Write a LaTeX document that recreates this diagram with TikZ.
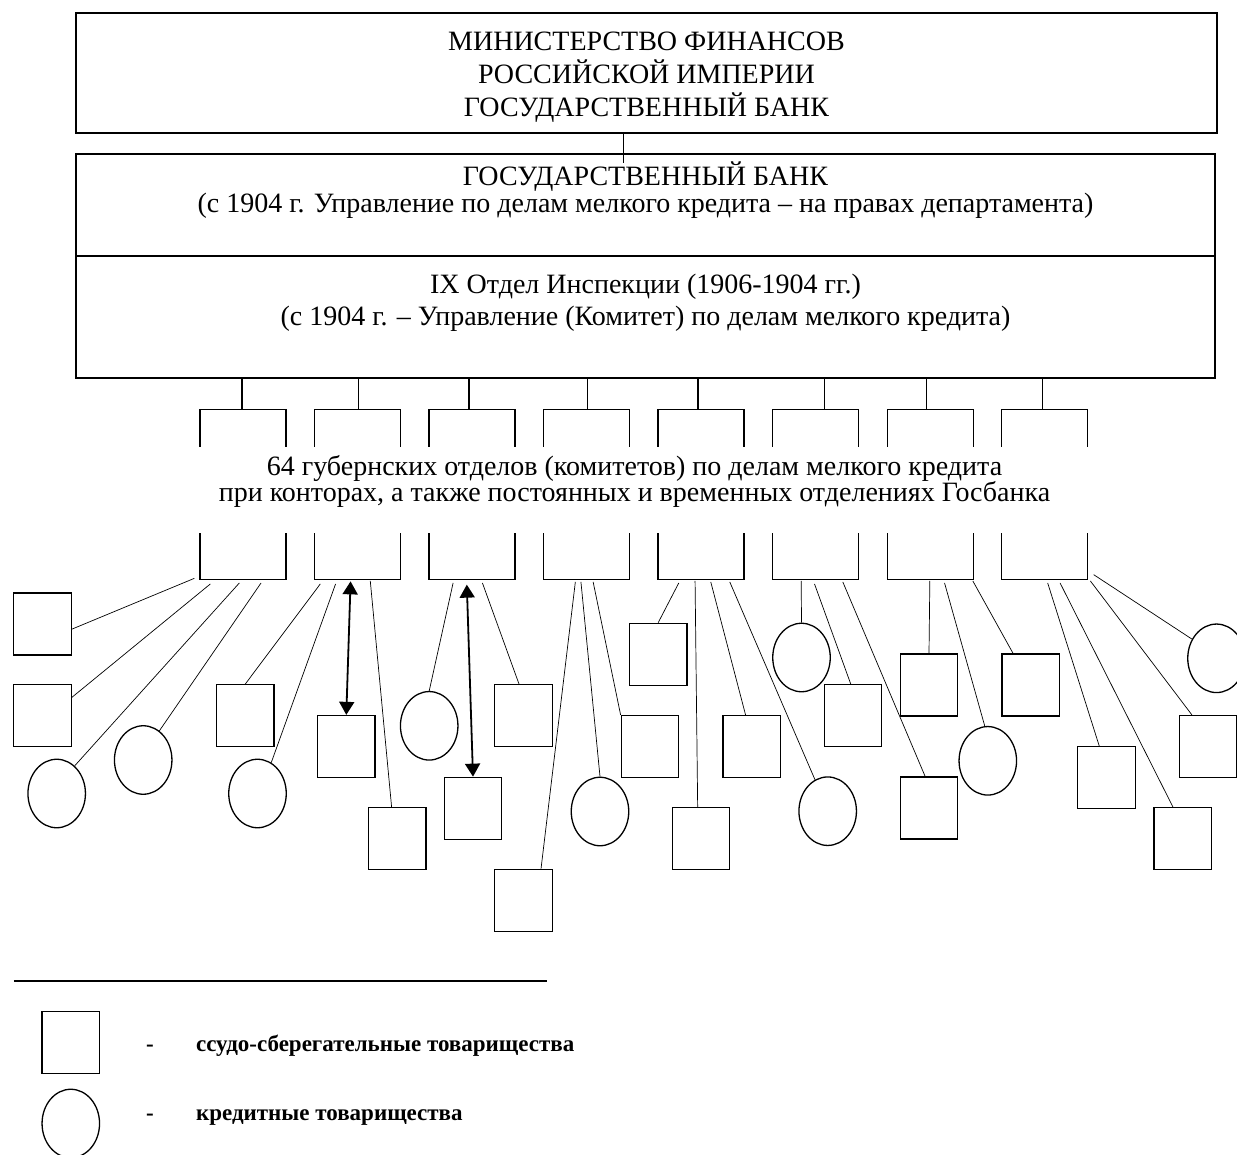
\documentclass[tikz,border=0pt]{standalone}
\usepackage{fontspec}
\setmainfont{Liberation Serif}
\usetikzlibrary{positioning,arrows.meta,shapes.geometric,calc}

\tikzset{
    frame/.style={draw, line width=0.65pt, inner sep=0pt},
    hdtext/.style={align=center, font={\fontsize{14pt}{16.5pt}\selectfont}},
    gub/.style={frame, minimum width=43pt, minimum height=85pt},
    ssb/.style={frame, minimum width=28.75pt, minimum height=31pt},
    kred/.style={frame, ellipse, minimum width=28.75pt, minimum height=34.25pt},
    drop/.style={line width=0.65pt},
    link/.style={line width=0.35pt},
    dbl/.style={line width=0.9pt,
        {Triangle[width=7.5pt,length=6.5pt]}-{Triangle[width=7.5pt,length=6.5pt]}},
    legtext/.style={font={\fontsize{11.5pt}{14pt}\selectfont\bfseries}, anchor=base west, inner sep=0pt},
    legdash/.style={font={\fontsize{11.5pt}{14pt}\selectfont\bfseries}, anchor=base, inner sep=0pt}
}

\begin{document}
\begin{tikzpicture}[x=0.5pt, y=-0.5pt]
\useasboundingbox (0,0) rectangle (1237,1155);

% head of the scheme
\node[frame, minimum width=570.5pt, minimum height=60pt] (minfin) at (646.5,72.9) {};
\node[hdtext, font={\fontsize{14pt}{16.6pt}\selectfont}] (mintext) at (646.5,77)
    {МИНИСТЕРСТВО ФИНАНСОВ\\РОССИЙСКОЙ ИМПЕРИИ\\ГОСУДАРСТВЕННЫЙ БАНК};
\node[frame, minimum width=569.5pt, minimum height=51pt] (bank) at (645.5,205) {};
\node[frame, minimum width=569.5pt, minimum height=61pt] (inspect) at (645.5,317) {};
\node[hdtext, font={\fontsize{14pt}{13.6pt}\selectfont}] (banktext) at (645.5,190.5)
    {ГОСУДАРСТВЕННЫЙ БАНК\\(с 1904 г. Управление по делам мелкого кредита -- на правах департамента)};
\node[hdtext, font={\fontsize{14pt}{16.2pt}\selectfont}] (insptext) at (645.5,303)
    {IX Отдел Инспекции (1906-1904 гг.)\\(с 1904 г. -- Управление (Комитет) по делам мелкого кредита)};

\coordinate (c0) at (623,163);
\draw[link, line width=0.5pt] (minfin.south -| c0) -- (c0);

% губернские отделы
\foreach \i in {1,...,8}
    \node[gub] (g\i) at ({243+114.53*(\i-1)},494.3) {};
\foreach \i/\dx in {1/-1,2/1,3/-3,4/1,5/-3,6/9,7/-4,8/-2} {
    \coordinate (d\i) at ($(g\i.north)+(\dx,0)$);
    \draw[drop] (d\i) -- (d\i |- inspect.south);
}
\node[fill=white, minimum width=452pt, minimum height=43pt] (band) at (643.9,490.3) {};
\node[hdtext, font={\fontsize{14pt}{13pt}\selectfont\lineskiplimit=-20pt}] (bandtext) at (634.5,481)
    {64 губернских отделов (комитетов) по делам мелкого кредита\\при конторах, а также постоянных и временных отделениях Госбанка};

% товарищества
\foreach \n/\x/\y in {s1/42.4/624, s2/42.4/715.8, s3/245.2/715.8, s4/346.3/746.5,
        s5/397.2/838.8, s6/473/808.3, s7/523.5/715.8, s8/523.5/900.2, s9/650/746.5,
        s10/658.2/654.3, s11/701/838.8, s12/751.7/746.5, s13/853/715.8, s14/929/808,
        s15/929/685, s16/1030.6/685, s17/1106.5/777.5, s18/1182.7/838.8, s19/1208/746.5}
    \node[ssb] (\n) at (\x,\y) {};
\foreach \n/\x/\y in {k1/56.7/793.5, k2/143.2/760, k3/257.5/793.5, k4/429.2/725.8,
        k5/600/811.5, k6/827.7/811.2, k7/801.5/657.5, k8/987.8/760.8, k9/1216.5/658.3}
    \node[kred] (\n) at (\x,\y) {};

\foreach \b/\dx/\dy/\t in {1/-5/-1.6/s1.-10, 1/11/4/s2.32, 1/40/3/k1.57, 1/61.7/3/k2.61,
        2/6.4/4/s3.north, 2/21.7/4/k3.66, 2/56.4/1/s5.100,
        3/24.7/3/k4.north, 3/54/3/s7.98,
        4/32.4/2/s8.61, 4/38/2/k5.north, 4/50.2/2/s9.north west,
        5/21.3/3/s10.north, 5/37.6/1/s11.96, 5/53.3/2/s12.101, 5/72.3/2/k6.112,
        6/29.2/1/k7.north, 6/42.5/4/s13.94, 6/70.8/2/s14.97,
        7/43.3/1/s15.north, 7/58/3/k8.95, 7/86.3/1/s16.119,
        8/46.6/3/s17.103, 8/59/3/s18.107, 8/89.3/1/s19.117, 8/92.6/-5.3/k9.142}
    \draw[link] ($(g\b.south west)+(\dx,\dy)$) -- (\t);

\draw[dbl] ($(g2.south west)+(36.7,1.4)$) -- (s4.north);
\draw[dbl] ($(g3.south west)+(38.4,4.7)$) -- (s6.north);

% legend
\draw[line width=0.8pt] (13.8,980.7) -- (547,980.7);
\node[ssb] (legs) at (70.8,1042.5) {};
\node[kred] (legk) at (70.8,1123.5) {};
\node[legdash] (legsd) at (150,1051.5) {-};
\node[legtext] (legst) at (195.7,1051.5) {ссудо-сберегательные товарищества};
\node[legdash] (legkd) at (150,1120) {-};
\node[legtext] (legkt) at (195.7,1120) {кредитные товарищества};
\end{tikzpicture}
\end{document}
